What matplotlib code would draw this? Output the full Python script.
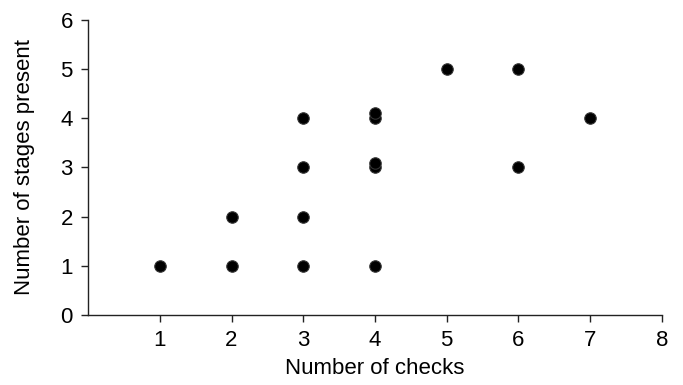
import matplotlib
matplotlib.use("Agg")
import matplotlib.pyplot as plt

checks = [1, 2, 2, 3, 3, 3, 3, 4, 4, 4, 4, 4, 5, 6, 6, 7]
stages = [1, 1, 2, 1, 2, 3, 4, 1, 3, 3.1, 4, 4.1, 5, 3, 5, 4]
xticks = [1, 2, 3, 4, 5, 6, 7, 8]
yticks = [0, 1, 2, 3, 4, 5, 6]

plt.rcParams['font.family'] = ['Liberation Sans', 'DejaVu Sans']
fig = plt.figure(figsize=(6.83, 3.85), dpi=100)
ax = fig.add_axes([0.129, 0.182, 0.840, 0.766])
ax.scatter(checks, stages, s=68, color='black', edgecolors='#333333', linewidths=0.8, zorder=3, clip_on=False)
ax.set_xlim(0, 8)
ax.set_ylim(0, 6)
ax.set_xticks(xticks)
ax.set_yticks(yticks)
ax.spines['top'].set_visible(False)
ax.spines['right'].set_visible(False)
for s in ['left', 'bottom']:
    ax.spines[s].set_linewidth(1.0)
    ax.spines[s].set_color('#222222')
ax.tick_params(axis='both', direction='out', length=5, width=1.0, labelsize=16, color='#222222', pad=6)
ax.set_xlabel('Number of checks', fontsize=16, labelpad=5)
ax.set_ylabel('Number of stages present', fontsize=16, labelpad=18)
fig.savefig('out.png', dpi=100)
